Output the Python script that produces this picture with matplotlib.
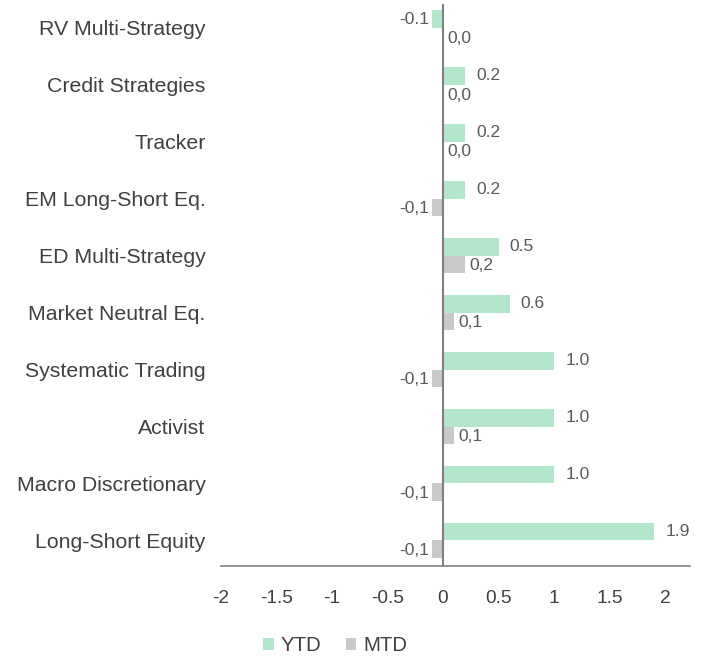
import matplotlib
matplotlib.use('Agg')
import matplotlib.pyplot as plt
import numpy as np

plt.rcParams['font.family'] = ['Liberation Sans', 'DejaVu Sans']

# Data (top to bottom as shown)
categories = ['RV Multi-Strategy', 'Credit Strategies', 'Tracker', 'EM Long-Short Eq.',
              'ED Multi-Strategy', 'Market Neutral Eq.', 'Systematic Trading', 'Activist',
              'Macro Discretionary', 'Long-Short Equity']
ytd = [-0.1, 0.2, 0.2, 0.2, 0.5, 0.6, 1.0, 1.0, 1.0, 1.9]
mtd = [0.0, 0.0, 0.0, -0.1, 0.2, 0.1, -0.1, 0.1, -0.1, -0.1]
xticks = [-2, -1.5, -1, -0.5, 0, 0.5, 1, 1.5, 2]

c_ytd = '#b3e7cc'
c_mtd = '#c9c9c9'
txt = '#404040'
lab = '#595959'

fig = plt.figure(figsize=(7.03, 6.59), dpi=100)
ax = fig.add_axes([0.314, 0.141, 0.667, 0.853])

n = len(categories)
y = np.arange(n)[::-1]
h = 0.31
ax.barh(y + h / 2, ytd, height=h, color=c_ytd, label='YTD')
ax.barh(y - h / 2, mtd, height=h, color=c_mtd, label='MTD')

for yi, v in zip(y, ytd):
    if v >= 0:
        ax.annotate(f'{v:.1f}', (v, yi + h / 2), xytext=(8, 0), textcoords='offset points',
                    ha='left', va='center', fontsize=12.5, color=lab)
    else:
        ax.annotate(f'{v:.1f}', (v, yi + h / 2), xytext=(-2, 0), textcoords='offset points',
                    ha='right', va='center', fontsize=12.5, color=lab)
for yi, v in zip(y, mtd):
    s = f'{v:.1f}'.replace('.', ',')
    if v >= 0:
        ax.annotate(s, (v, yi - h / 2), xytext=(3, -1), textcoords='offset points',
                    ha='left', va='center', fontsize=12.5, color=lab)
    else:
        ax.annotate(s, (v, yi - h / 2), xytext=(-2, -1), textcoords='offset points',
                    ha='right', va='center', fontsize=12.5, color=lab)

ax.axvline(0, color='#808080', linewidth=1.5)
ax.set_xlim(-2, 2.22)
ax.set_ylim(-0.45, n - 0.58)
ax.set_yticks(y)
ax.set_yticklabels(categories, fontsize=15.3, color=txt)
ax.set_xticks(xticks)
ax.set_xticklabels([f'{t:g}' for t in xticks], fontsize=13.8, color=txt)
ax.tick_params(axis='y', length=0, pad=11)
ax.tick_params(axis='x', length=0, pad=17)

for side in ['left', 'right', 'top']:
    ax.spines[side].set_visible(False)
ax.spines['bottom'].set_color('#808080')
ax.spines['bottom'].set_linewidth(1.2)

fig.legend(loc='lower center', bbox_to_anchor=(0.477, -0.022), ncol=2, frameon=False,
           fontsize=14.7, handlelength=0.5, handleheight=0.5, handletextpad=0.35,
           columnspacing=1.2, labelcolor=txt)

plt.savefig('out.png', dpi=100, facecolor='white')
